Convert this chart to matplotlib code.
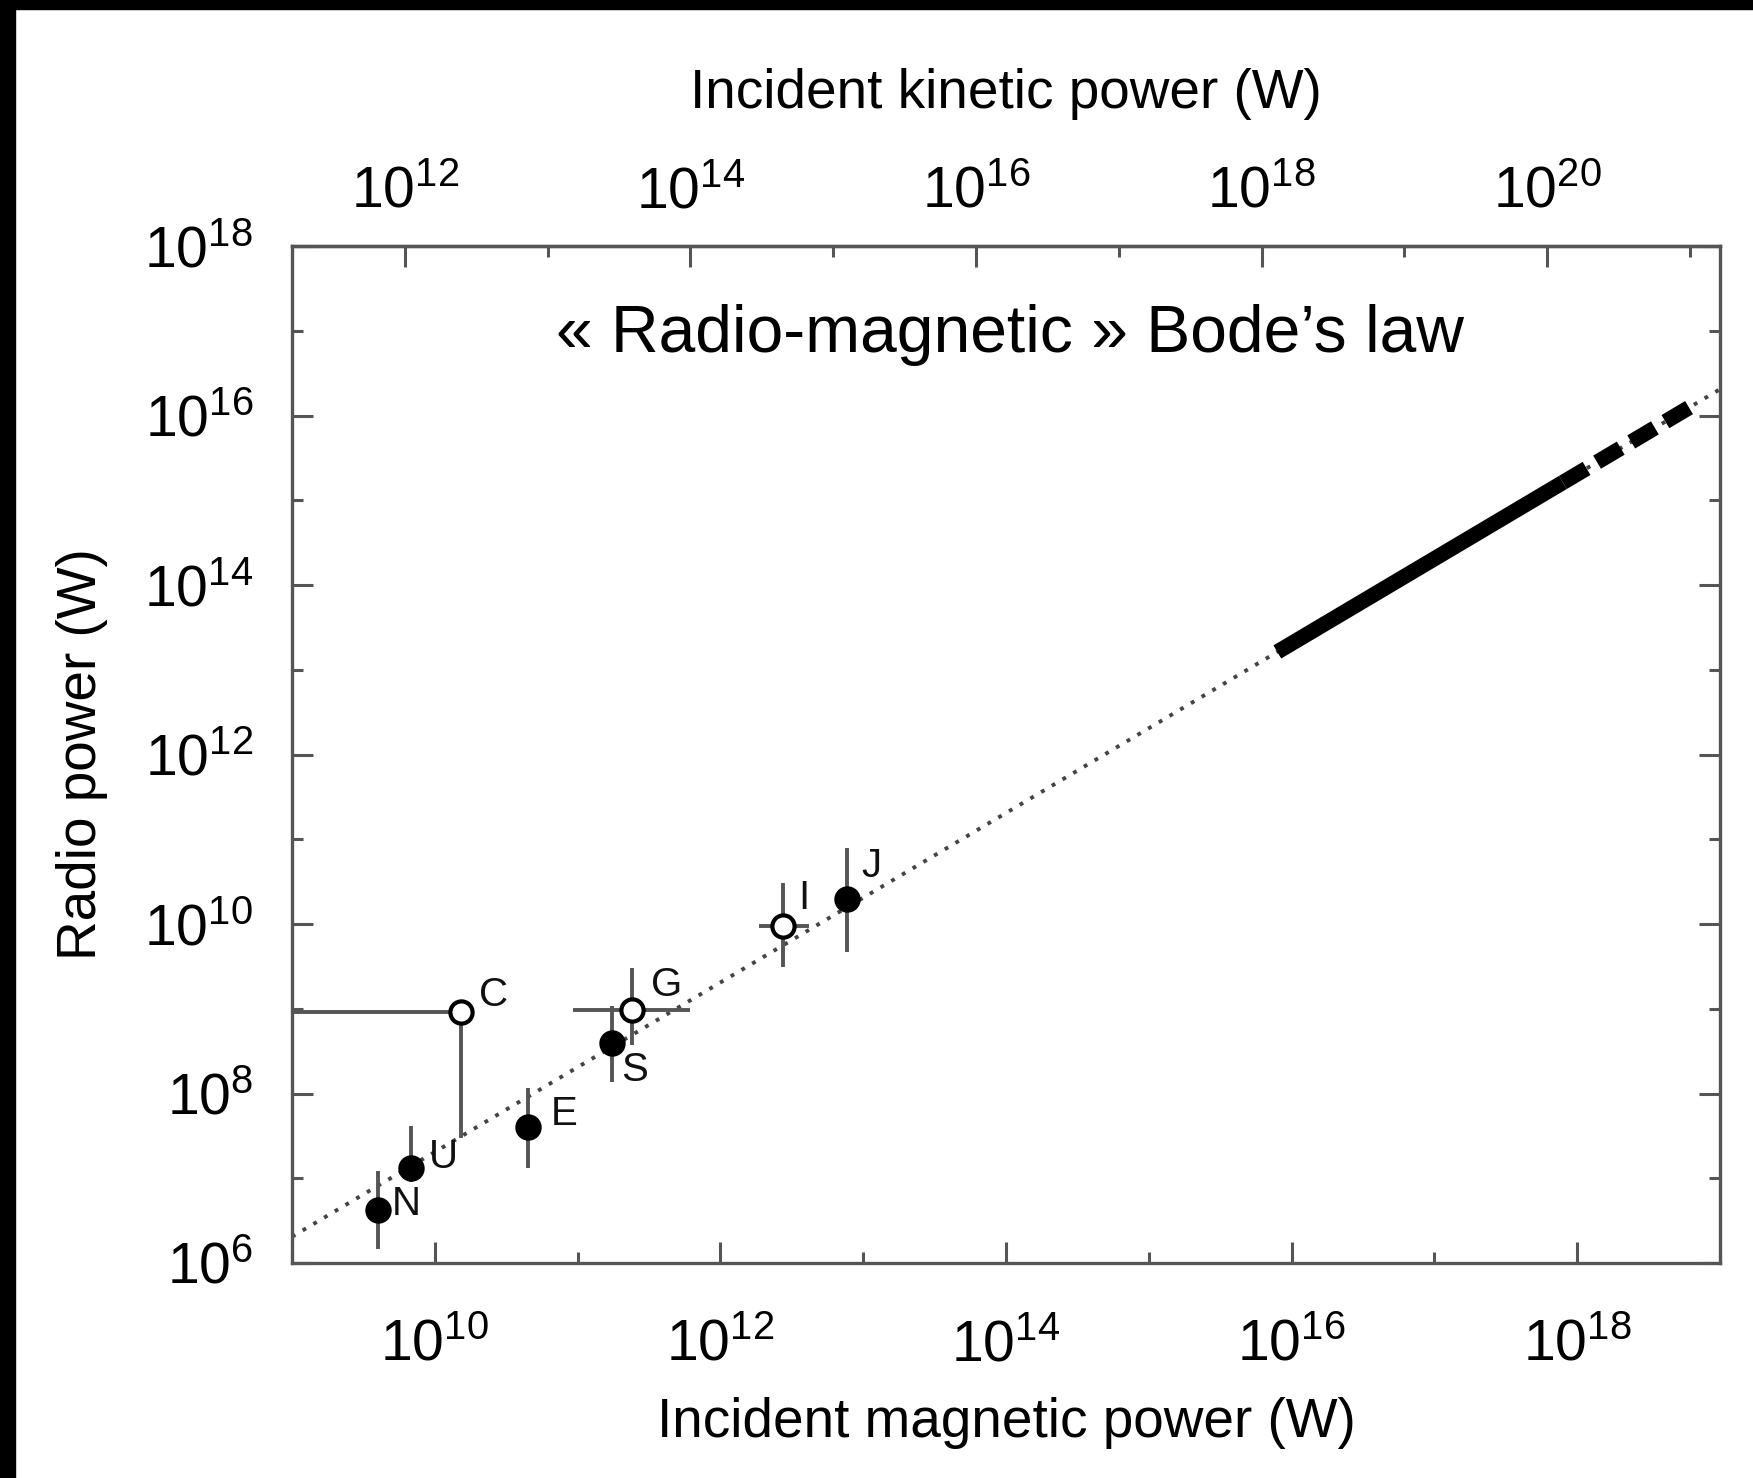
import numpy as np
import matplotlib
matplotlib.use('Agg')
import matplotlib.pyplot as plt
from matplotlib.patches import Rectangle
from matplotlib.ticker import FixedLocator, LogFormatterSciNotation, NullFormatter

plt.rcParams['font.family'] = ['Liberation Sans', 'DejaVu Sans']

# planets (log10 values)
planets = ['N', 'U', 'C', 'E', 'S', 'G', 'I', 'J']
filled = [True, True, False, True, True, False, False, True]
mag_log = [9.60, 9.83, 10.18, 10.65, 11.24, 11.38, 12.44, 12.89]
radio_log = [6.62, 7.12, 8.96, 7.61, 8.60, 8.99, 9.98, 10.29]
radio_lo_log = [6.16, 6.95, 7.47, 7.12, 8.14, 8.57, 9.49, 9.67]
radio_hi_log = [7.08, 7.62, 8.96, 8.07, 9.03, 9.48, 10.48, 10.90]
mag_lo_log = [9.60, 9.83, 8.00, 10.65, 11.24, 10.97, 12.27, 12.89]
mag_hi_log = [9.60, 9.83, 10.18, 10.65, 11.24, 11.79, 12.62, 12.89]

# scaling law
fit_x_log = [9.0, 19.0]
fit_y_log = [6.31, 16.31]
thick_x_log = [15.9, 17.9]
dash_x_log = [17.9, 18.8]

# kinetic / magnetic power ratio (top axis)
kin_ratio_log = 2.21

x_major = [1e10, 1e12, 1e14, 1e16, 1e18]
x_minor = [1e9, 1e11, 1e13, 1e15, 1e17, 1e19]
y_major = [1e6, 1e8, 1e10, 1e12, 1e14, 1e16, 1e18]
y_minor = [1e7, 1e9, 1e11, 1e13, 1e15, 1e17]
top_major = [1e12, 1e14, 1e16, 1e18, 1e20]
top_minor = [1e13, 1e15, 1e17, 1e19, 1e21]

# label offsets (points): dx to left edge, dy to centre
label_off = {'N': (10, 5), 'U': (13, 8), 'C': (13, 12), 'E': (17, 9),
             'S': (7, -20), 'G': (14, 18), 'I': (11, 20), 'J': (10, 24)}

W, H = 1753, 1478
fig = plt.figure(figsize=(W / 100, H / 100), dpi=100)
ax = fig.add_axes([292 / W, 1 - 1263 / H, (1720 - 292) / W, (1263 - 246) / H])

x = 10 ** np.array(mag_log)
y = 10 ** np.array(radio_log)
ylo = y - 10 ** np.array(radio_lo_log)
yhi = 10 ** np.array(radio_hi_log) - y
xlo = x - 10 ** np.array(mag_lo_log)
xhi = 10 ** np.array(mag_hi_log) - x

gray = '#555555'

# fitted law, dotted over full range
fx = 10 ** np.array(fit_x_log)
fy = 10 ** np.array(fit_y_log)
ax.plot(fx, fy, color='#444444', lw=2.8, ls=(0, (1, 2.2)), zorder=1)

tx = np.array(thick_x_log)
ax.plot(10 ** tx, 10 ** np.interp(tx, fit_x_log, fit_y_log), color='black',
        lw=11, solid_capstyle='butt', zorder=2)
dx_ = np.array(dash_x_log)
ax.plot(10 ** dx_, 10 ** np.interp(dx_, fit_x_log, fit_y_log), color='black',
        lw=11, ls=(0, (1.8, 0.8)), dash_capstyle='butt', zorder=2)

ax.errorbar(x, y, yerr=[ylo, yhi], xerr=[xlo, xhi], fmt='none',
            ecolor=gray, elinewidth=2.8, capsize=0, zorder=3)

for xi, yi, f, name in zip(x, y, filled, planets):
    ax.plot(xi, yi, 'o', ms=16, mfc='black' if f else 'white', mec='black',
            mew=3, zorder=4)
    ax.annotate(name, (xi, yi), xytext=label_off[name], textcoords='offset points',
                ha='left', va='center', fontsize=29, color='#111111', zorder=5)

ax.set_xscale('log')
ax.set_yscale('log')
ax.set_xlim(1e9, 1e19)
ax.set_ylim(1e6, 1e18)

ax.xaxis.set_major_locator(FixedLocator(x_major))
ax.xaxis.set_minor_locator(FixedLocator(x_minor))
ax.yaxis.set_major_locator(FixedLocator(y_major))
ax.yaxis.set_minor_locator(FixedLocator(y_minor))
ax.xaxis.set_major_formatter(LogFormatterSciNotation())
ax.yaxis.set_major_formatter(LogFormatterSciNotation())
ax.xaxis.set_minor_formatter(NullFormatter())
ax.yaxis.set_minor_formatter(NullFormatter())

ax.tick_params(which='both', direction='in', color=gray, width=2.2,
               labelsize=41, top=False, right=True)
ax.tick_params(which='major', length=15)
ax.tick_params(which='minor', length=8)
ax.tick_params(axis='x', pad=40)
ax.tick_params(axis='y', pad=28)
for s in ax.spines.values():
    s.set_color(gray)
    s.set_linewidth(2.4)

r = 10 ** kin_ratio_log
secax = ax.secondary_xaxis('top', functions=(lambda v: v * r, lambda v: v / r))
secax.set_xticks(top_major)
secax.xaxis.set_minor_locator(FixedLocator(top_minor))
secax.xaxis.set_major_formatter(LogFormatterSciNotation())
secax.xaxis.set_minor_formatter(NullFormatter())
secax.tick_params(which='both', direction='in', color=gray, width=2.2, labelsize=41, pad=19)
secax.tick_params(which='major', length=15)
secax.tick_params(which='minor', length=8)
secax.spines['top'].set_color(gray)
secax.spines['top'].set_linewidth(2.4)
secax.set_xlabel('Incident kinetic power (W)', fontsize=39.5)
secax.xaxis.set_label_coords(0.5, 1.136, transform=ax.transAxes)

ax.set_xlabel('Incident magnetic power (W)', fontsize=39.5)
ax.xaxis.set_label_coords(0.5, -0.132)
ax.set_ylabel('Radio power (W)', fontsize=39.5)
ax.yaxis.set_label_coords(-0.129, 0.5)

ax.text(0.503, 0.912, '« Radio-magnetic » Bode’s law', transform=ax.transAxes,
        ha='center', va='center', fontsize=47.5)

# black frame strips of the screenshot
fig.patches.append(Rectangle((0, 1 - 9 / H), 1, 9 / H, transform=fig.transFigure,
                             color='black', zorder=10))
fig.patches.append(Rectangle((0, 0), 15 / W, 1, transform=fig.transFigure,
                             color='black', zorder=10))

fig.savefig('out.png', dpi=100)
